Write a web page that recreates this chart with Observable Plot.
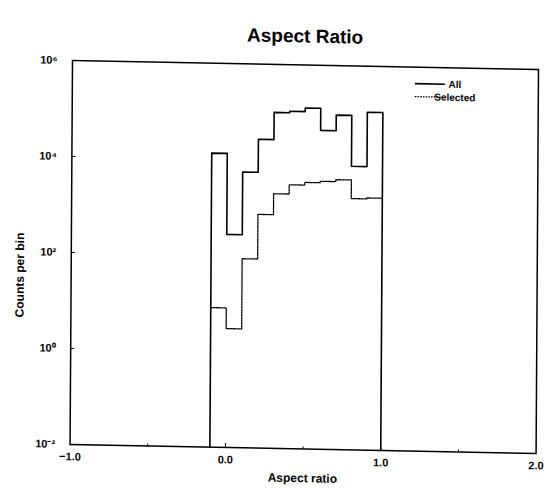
<!DOCTYPE html>
<html><head><meta charset="utf-8">
<script src="https://cdn.jsdelivr.net/npm/d3@7"></script>
<script src="https://cdn.jsdelivr.net/npm/@observablehq/plot@0.6"></script>
<style>
body{margin:0;background:#fff;}
#wrap{position:relative;width:547px;height:489px;transform-origin:72px 60px;transform:matrix(1,0.0193,-0.0063,1,0,0);font-family:"Liberation Sans",Arial,sans-serif;}
#title{position:absolute;left:72px;width:466px;top:22px;text-align:center;font-weight:bold;font-size:19px;line-height:20px;color:#000;}
#chart{position:absolute;left:0;top:42px;}
</style></head><body>
<div id="wrap"><div id="title">Aspect Ratio</div><div id="chart"></div></div>
<script>
const binEdges = [-0.1, 0.0, 0.1, 0.2, 0.3, 0.4, 0.5, 0.6, 0.7, 0.8, 0.9, 1.0];
const allCounts = [13400, 275, 5570, 27100, 100000, 107000, 127000, 44000, 93000, 8100, 110000];
const selectedCounts = [8.1, 3.0, 87, 740, 2020, 3150, 3580, 3830, 4200, 1720, 1800];
const xTicks = [-1.0, 0.0, 1.0, 2.0];
const xInnerTicks = [0.0, 1.0];
const xMinorTicks = [-0.5, 0.5, 1.5];
const yTicks = [1e-2, 1e0, 1e2, 1e4, 1e6];
const yInnerTicks = [1e0, 1e2, 1e4];
const seriesNames = ["All", "Selected"];
const yFloor = 1e-2;

function outline(counts, closed) {
  const pts = [];
  if (closed) pts.push({x: binEdges[0], y: yFloor});
  counts.forEach((c, i) => pts.push({x: binEdges[i], y: c}));
  pts.push({x: binEdges[binEdges.length - 1], y: counts[counts.length - 1]});
  if (closed) pts.push({x: binEdges[binEdges.length - 1], y: yFloor});
  return pts;
}
const sup = {"0":"⁰","1":"¹","2":"²","3":"³","4":"⁴","5":"⁵","6":"⁶","7":"⁷","8":"⁸","9":"⁹","-":"⁻"};
const fmtY = d => "10" + String(Math.round(Math.log10(d))).split("").map(c => sup[c]).join("");
const blank = () => "";

const W = 547, H = 447, mT = 18, mB = 45, mL = 72, mR = 9;
const plot = Plot.plot({
  width: W, height: H,
  marginTop: mT, marginBottom: mB, marginLeft: mL, marginRight: mR,
  style: {fontFamily: "Liberation Sans, Arial, sans-serif", background: "white", color: "black", overflow: "visible"},
  x: {domain: [-1, 2]},
  y: {type: "log", domain: [1e-2, 1e6]},
  marks: [
    Plot.frame({strokeWidth: 1.5}),
    Plot.axisY(yTicks, {tickSize: 0, tickPadding: 15, tickFormat: fmtY, fontWeight: "bold", fontSize: 11, label: null}),
    Plot.axisY(yInnerTicks, {tickSize: 4, dx: 4, tickFormat: blank, label: null}),
    Plot.axisX(xTicks, {tickSize: 0, tickPadding: 8, tickFormat: d3.format(".1f"), fontWeight: "bold", fontSize: 11, label: null}),
    Plot.axisX(xInnerTicks, {tickSize: 4, dy: -4, tickFormat: blank, label: null}),
    Plot.axisX(xMinorTicks, {tickSize: 2, dy: -2, tickFormat: blank, label: null}),
    Plot.line(outline(allCounts, true), {x: "x", y: "y", curve: "step-after", stroke: "black", strokeWidth: 1.6}),
    Plot.line(outline(selectedCounts, false), {x: "x", y: "y", curve: "step-after", stroke: "black", strokeWidth: 1.3, strokeDasharray: "1.6,1.1"})
  ]
});
document.getElementById("chart").appendChild(plot);

const svg = d3.select(plot);
const top0 = 42;
const txt = (x, y, s, size, rot) => {
  const t = svg.append("text").attr("x", x).attr("y", y - top0).attr("text-anchor", "middle")
    .attr("dy", "0.35em").attr("font-weight", "bold").attr("font-size", size).attr("fill", "black").text(s);
  if (rot) t.attr("transform", `rotate(-90 ${x} ${y - top0})`);
};
txt(21, 276, "Counts per bin", 12, true);
txt(305, 473.5, "Aspect ratio", 12, false);

// legend
const legY = [77, 90];
seriesNames.forEach((name, i) => {
  svg.append("line").attr("x1", 415).attr("x2", 445).attr("y1", legY[i] - top0).attr("y2", legY[i] - top0)
    .attr("stroke", "black").attr("stroke-width", i === 0 ? 1.6 : 1.3)
    .attr("stroke-dasharray", i === 0 ? null : "1.6,1.1");
  svg.append("text").attr("x", 455).attr("y", legY[i] - top0).attr("dy", "0.35em")
    .attr("font-weight", "bold").attr("font-size", 10).attr("fill", "black").text(name);
});
</script>
</body></html>
